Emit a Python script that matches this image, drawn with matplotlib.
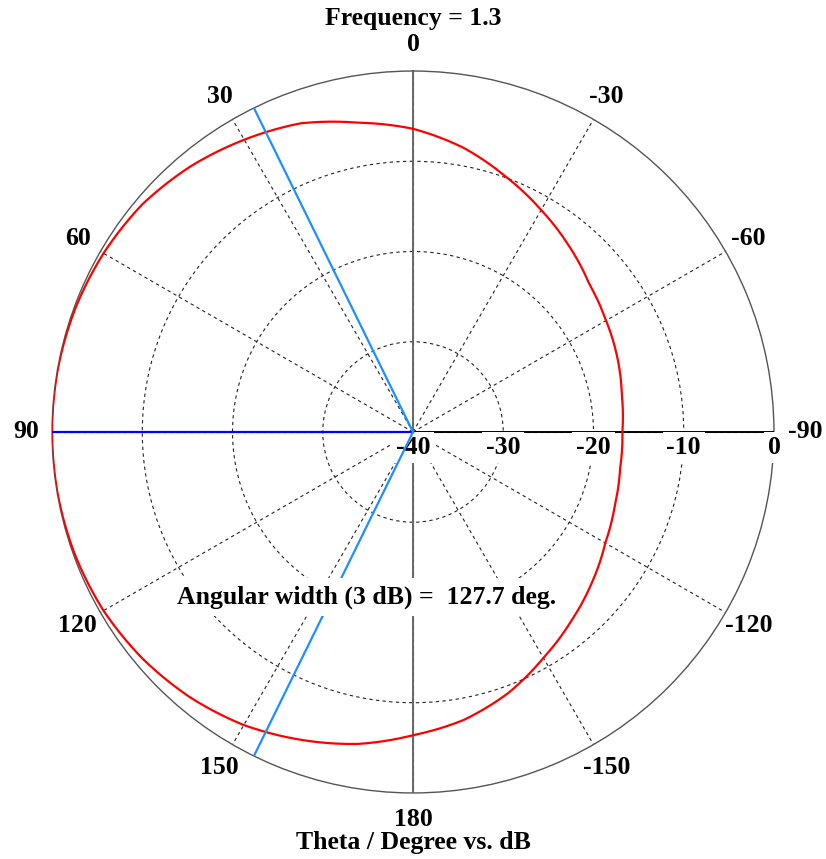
import numpy as np
import matplotlib
matplotlib.use("Agg")
import matplotlib.pyplot as plt

# pattern: theta in degrees, level in dB
theta_deg = [0, 10, 20, 30, 40, 50, 60, 70, 80, 90, 100, 110, 120, 130, 140,
             150, 160, 170, 180, 190, 200, 210, 220, 230, 240, 250, 260, 270,
             280, 290, 300, 310, 320, 330, 340, 350, 360]
gain_db = [-6.4, -5.2, -3.6, -2.6, -1.6, -0.8, -0.4, -0.15, -0.03, 0.0, -0.03,
           -0.15, -0.4, -0.9, -1.6, -2.5, -3.7, -4.9, -6.4, -7.6, -9.2, -11.1,
           -12.7, -14.1, -15.4, -16.2, -16.7, -16.8, -16.5, -15.9, -15.3,
           -14.5, -13.1, -11.6, -9.9, -8.0, -6.4]

max_dir = 90.0
half_power = [26.15, 153.85]
beam_width = 127.7

angle_ticks = [0, 30, 60, 90, 120, 150, 180, 210, 240, 270, 300, 330]
angle_labels = ['0', '30', '60', '90', '120', '150', '180', '-150', '-120',
                '-90', '-60', '-30']
r_ticks = [-40, -30, -20, -10, 0]
r_min, r_max = -40, 0

plt.rcParams['font.family'] = ['Liberation Serif', 'DejaVu Serif']
plt.rcParams['font.weight'] = 'bold'
fs = 18.5

fig = plt.figure(figsize=(8.26, 8.59), dpi=100)
ax = fig.add_axes([0.063, 0.0768, 0.874, 0.8406], projection='polar')
ax.set_theta_zero_location('N')
ax.set_theta_direction(1)
ax.set_ylim(r_min, r_max)

# grid: dashed rings and spokes
ax.set_rgrids(r_ticks[1:-1], labels=[''] * 3)
ax.set_thetagrids(angle_ticks, labels=[''] * len(angle_ticks))
ax.grid(True, color='#222222', ls=(0, (3, 3)), lw=0.8)
ax.spines['polar'].set_color('#555555')
ax.spines['polar'].set_linewidth(1.0)
ax.tick_params(length=0)

# solid axes lines
ax.plot(np.deg2rad([0, 0]), [r_min, r_max], color='#666666', lw=1.4, zorder=3)
ax.plot(np.deg2rad([180, 180]), [r_min, r_max], color='#666666', lw=1.4, zorder=3)
ax.plot(np.deg2rad([270, 270]), [r_min, r_max], color='black', lw=1.4, zorder=3)

# pattern, drawn with arcs between the read points
th = np.deg2rad(theta_deg)
line, = ax.plot(th, gain_db, color='red', lw=1.6, zorder=4)
line.get_path()._interpolation_steps = 20
line.recache_always()

# max direction and half power directions
ax.plot(np.deg2rad([max_dir, max_dir]), [r_min, r_max], color='#0000ff', lw=1.6, zorder=5)
for a in half_power:
    ax.plot(np.deg2rad([a, a]), [r_min, r_max], color='#1e8fff', lw=1.6, zorder=5)

# angle labels outside the circle
for a, lab in zip(angle_ticks, angle_labels):
    rr = 3.5 if lab == '-90' else 2.9
    ax.text(np.deg2rad(a), rr, lab, ha='center', va='center', fontsize=fs,
            clip_on=False)

# radial labels along the right hand axis
for r in r_ticks:
    ax.annotate(str(r), xy=(np.deg2rad(270), r), xytext=(0, -11),
                textcoords='offset points', ha='center', va='center',
                fontsize=fs, zorder=4.5,
                bbox=dict(boxstyle='square,pad=0.15', fc='white', ec='none'))

fig.text(0.5, 1 - 18 / 859, 'Frequency = 1.3', ha='center', va='center', fontsize=fs)
fig.text(0.5, 1 - 843 / 859, 'Theta / Degree vs. dB', ha='center', va='center', fontsize=fs)
fig.text(367 / 826, 1 - 597 / 859, 'Angular width (3 dB) =  %.1f deg.' % beam_width,
         ha='center', va='center', fontsize=fs, zorder=10,
         bbox=dict(boxstyle='square,pad=0.3', fc='white', ec='none'))

fig.savefig('out.png', dpi=100)
